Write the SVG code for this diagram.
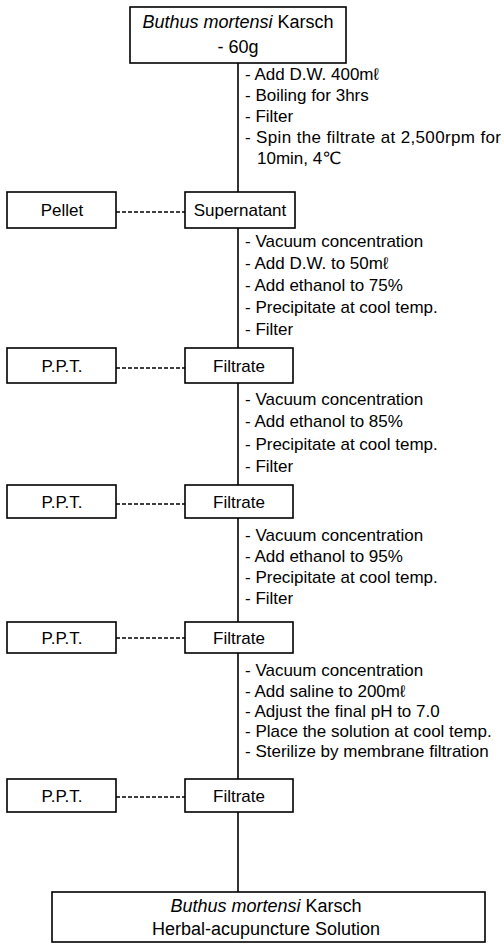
<svg xmlns="http://www.w3.org/2000/svg" width="504" height="948" viewBox="0 0 504 948">
<style>
rect.box{fill:#fff;stroke:#000;stroke-width:1.6}
.ln{stroke:#000;stroke-width:1.6;fill:none}
.dash{stroke:#000;stroke-width:1.4;stroke-dasharray:4 2;fill:none}
text{font-family:"Liberation Sans","DejaVu Sans",sans-serif;fill:#000}
.step{font-size:17px}
.lbl{font-size:17px;text-anchor:middle}
.big{font-size:18px;text-anchor:middle}
.it{font-style:italic}
</style>
<rect width="504" height="948" fill="#fff"/>
<g id="connectors">
<line class="ln" x1="238" y1="63" x2="238" y2="192"/>
<line class="ln" x1="238" y1="228" x2="238" y2="348"/>
<line class="ln" x1="238" y1="383" x2="238" y2="485"/>
<line class="ln" x1="238" y1="518" x2="238" y2="622"/>
<line class="ln" x1="238" y1="653" x2="238" y2="779"/>
<line class="ln" x1="238" y1="812" x2="238" y2="892"/>
<line class="dash" x1="116" y1="212" x2="185" y2="212"/>
<line class="dash" x1="116" y1="368" x2="185" y2="368"/>
<line class="dash" x1="116" y1="504" x2="185" y2="504"/>
<line class="dash" x1="116" y1="638" x2="185" y2="638"/>
<line class="dash" x1="116" y1="797" x2="185" y2="797"/>
</g>
<g id="start">
<rect class="box" x="130" y="7" width="216" height="56"/>
<text class="big" x="238" y="28"><tspan class="it">Buthus mortensi</tspan> Karsch</text>
<text class="big" x="238" y="53">- 60g</text>
</g>
<g id="steps1" class="step">
<text x="245" y="80">- Add D.W. 400mℓ</text>
<text x="245" y="101">- Boiling for 3hrs</text>
<text x="245" y="122">- Filter</text>
<text x="245" y="143" textLength="256" lengthAdjust="spacing">- Spin the filtrate at 2,500rpm for</text>
<text x="257" y="164">10min, 4℃</text>
</g>
<g id="pellet">
<rect class="box" x="7" y="192" width="109" height="36"/>
<text class="lbl" x="62" y="216">Pellet</text>
</g>
<g id="supernatant">
<rect class="box" x="185" y="192" width="110" height="36"/>
<text class="lbl" x="240" y="216">Supernatant</text>
</g>
<g id="steps2" class="step">
<text x="245" y="247">- Vacuum concentration</text>
<text x="245" y="269">- Add D.W. to 50mℓ</text>
<text x="245" y="291">- Add ethanol to 75%</text>
<text x="245" y="313">- Precipitate at cool temp.</text>
<text x="245" y="335">- Filter</text>
</g>
<g id="ppt1">
<rect class="box" x="7" y="348" width="109" height="35"/>
<text class="lbl" x="62" y="372">P.P.T.</text>
</g>
<g id="filtrate1">
<rect class="box" x="185" y="348" width="108" height="35"/>
<text class="lbl" x="239" y="372">Filtrate</text>
</g>
<g id="steps3" class="step">
<text x="245" y="405">- Vacuum concentration</text>
<text x="245" y="427">- Add ethanol to 85%</text>
<text x="245" y="450">- Precipitate at cool temp.</text>
<text x="245" y="472">- Filter</text>
</g>
<g id="ppt2">
<rect class="box" x="7" y="485" width="109" height="33"/>
<text class="lbl" x="62" y="508">P.P.T.</text>
</g>
<g id="filtrate2">
<rect class="box" x="185" y="485" width="108" height="33"/>
<text class="lbl" x="239" y="508">Filtrate</text>
</g>
<g id="steps4" class="step">
<text x="245" y="541">- Vacuum concentration</text>
<text x="245" y="562">- Add ethanol to 95%</text>
<text x="245" y="583">- Precipitate at cool temp.</text>
<text x="245" y="604">- Filter</text>
</g>
<g id="ppt3">
<rect class="box" x="7" y="622" width="109" height="31"/>
<text class="lbl" x="62" y="644">P.P.T.</text>
</g>
<g id="filtrate3">
<rect class="box" x="185" y="622" width="108" height="31"/>
<text class="lbl" x="239" y="644">Filtrate</text>
</g>
<g id="steps5" class="step">
<text x="245" y="676">- Vacuum concentration</text>
<text x="245" y="697">- Add saline to 200mℓ</text>
<text x="245" y="717">- Adjust the final pH to 7.0</text>
<text x="245" y="737">- Place the solution at cool temp.</text>
<text x="245" y="757">- Sterilize by membrane filtration</text>
</g>
<g id="ppt4">
<rect class="box" x="7" y="779" width="109" height="33"/>
<text class="lbl" x="62" y="802">P.P.T.</text>
</g>
<g id="filtrate4">
<rect class="box" x="185" y="779" width="108" height="33"/>
<text class="lbl" x="239" y="802">Filtrate</text>
</g>
<g id="product">
<rect class="box" x="52" y="892" width="433" height="50"/>
<text class="big" x="266" y="912"><tspan class="it">Buthus mortensi</tspan> Karsch</text>
<text class="big" x="266" y="935">Herbal-acupuncture Solution</text>
</g>
</svg>
